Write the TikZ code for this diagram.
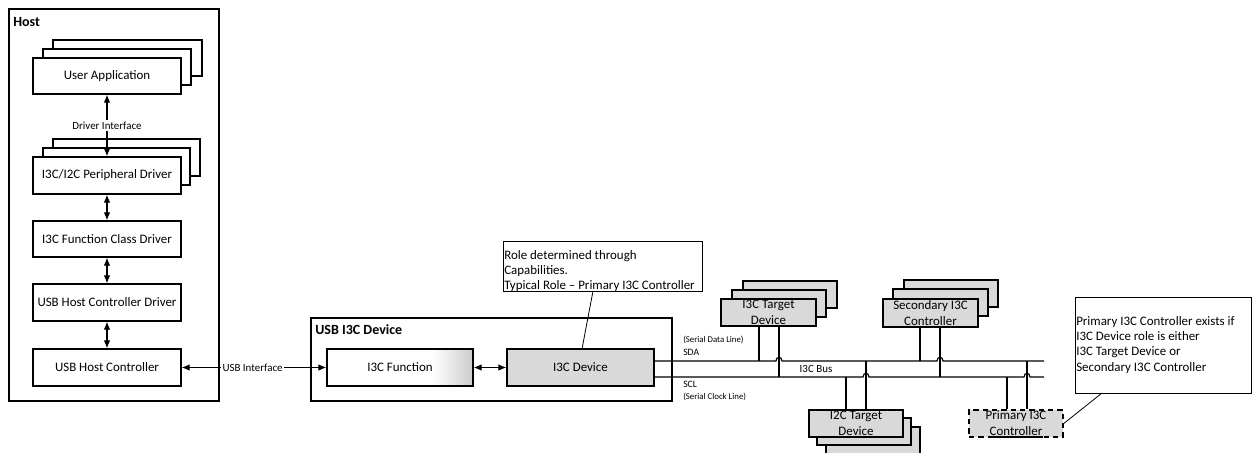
\documentclass[tikz,border=0pt]{standalone}
\usepackage{fontspec}
\setmainfont{Carlito}
\usetikzlibrary{arrows.meta}
\definecolor{devgray}{HTML}{D9D9D9}
% white body that turns grey towards the right edge
\pgfdeclarehorizontalshading{fnshade}{100bp}{color(0bp)=(white); color(25bp)=(white); color(61bp)=(white); color(75bp)=(black!20); color(100bp)=(black!20)}
% \pbox{name}{style}{x1}{y1}{x2}{y2}{text}: box given by its corners (pixel grid, y down)
\newcommand\pbox[7]{\node[#2, minimum width={(#5-(#3))*0.75pt}, minimum height={(#6-(#4))*0.75pt}] (#1) at ({(#3+#5)/2},{(#4+#6)/2}) {#7};}
\tikzset{
  box/.style={draw, line width=1.1pt, fill=white, inner sep=0pt, align=center, font=\fontsize{9.7}{12}\selectfont},
  dev/.style={box, fill=devgray, line width=1.4pt},
  frame/.style={draw, line width=1.1pt, inner sep=0pt},
  note/.style={draw, line width=0.6pt, inner sep=0pt, fill=white},
  link/.style={line width=0.8pt, {Latex[length=6pt,width=5pt]}-{Latex[length=6pt,width=5pt]}},
  bus/.style={line width=0.85pt},
  lbl/.style={font=\fontsize{8.2}{10}\selectfont, fill=white, inner sep=1pt},
  title/.style={font=\fontsize{10.5}{12}\bfseries, inner sep=0pt, anchor=west},
  sig/.style={font=\fontsize{7.3}{9}\selectfont, inner sep=0pt, anchor=west},
  sigsub/.style={font=\fontsize{6.6}{8}\selectfont, inner sep=0pt, anchor=west},
  notetext/.style={font=\fontsize{9.7}{11.3}\selectfont, inner sep=0pt, anchor=west, align=left},
}
\begin{document}
\begin{tikzpicture}[x=0.75pt, y=-0.75pt]
\useasboundingbox (0,0) rectangle (1252,453);

% ---------------- Host ----------------
\pbox{host}{frame}{9}{9}{219}{401}{}
\node[title] at (13,22) {Host};

\pbox{ua3}{box}{53}{40}{202}{76}{}
\pbox{ua2}{box}{43}{49}{191}{85}{}
\pbox{ua}{box}{33}{58}{181}{94}{User Application}

\pbox{pd3}{box}{53}{139}{200}{176}{}
\pbox{pd2}{box}{43}{148}{190}{185}{}
\pbox{pd}{box}{33}{157}{181}{194}{I3C/I2C Peripheral Driver}

\pbox{fcd}{box}{33}{221}{181}{257}{I3C Function Class Driver}
\pbox{hcd}{box}{33}{284}{181}{321}{USB Host Controller Driver}
\pbox{hc}{box}{33}{349}{181}{386}{USB Host Controller}

\draw[link] (ua.south) -- node[lbl] {Driver Interface} (pd.north);
\draw[link] (pd.south) -- (fcd.north);
\draw[link] (fcd.south) -- (hcd.north);
\draw[link] (hcd.south) -- (hc.north);

% ---------------- USB I3C Device ----------------
\pbox{dev}{frame}{311}{318}{672}{401}{}
\node[title] at (315,330) {USB I3C Device};
\pbox{fn}{box, shading=fnshade}{327}{349}{473}{386}{I3C Function}
\pbox{idev}{box, fill=devgray}{507}{349}{654}{386}{I3C Device}

\draw[link] (hc.east) -- node[lbl, pos=0.49] {USB Interface} (fn.west);
\draw[link] (fn.east) -- (idev.west);

% role note
\pbox{rnote}{note}{503}{241}{702}{291}{}
\node[notetext] at (504,271) {Role determined through\\Capabilities.\\Typical Role -- Primary I3C Controller};
\draw[line width=0.6pt] (582,349) -- (593,291);

% ---------------- I3C bus ----------------
\coordinate (sdaE) at (1044,361);
\coordinate (sclE) at (1044,377);
\draw[bus] (idev.east |- sdaE) -- (776,361) .. controls (776,356) and (782,356) .. (782,361)
  -- (937,361) .. controls (937,356) and (943,356) .. (943,361) -- (sdaE);
\draw[bus] (idev.east |- sclE) -- (863,377) .. controls (863,372) and (869,372) .. (869,377)
  -- (1024,377) .. controls (1024,372) and (1030,372) .. (1030,377) -- (sclE);

\node[sigsub] at (683,340) {(Serial Data Line)};
\node[sig] at (683,352) {SDA};
\node[sig] at (683,384) {SCL};
\node[sigsub] at (683,397) {(Serial Clock Line)};
\node[font=\fontsize{8.2}{10}\selectfont, inner sep=0pt] at (816,369) {I3C Bus};

% I3C target devices
\pbox{tgt3}{dev}{743}{281}{837}{308}{}
\pbox{tgt2}{dev}{732}{290}{826}{317}{}
\pbox{tgt}{dev}{721}{299}{816}{326}{I3C Target\\Device}

% secondary controllers
\pbox{sec3}{dev}{904}{280}{998}{307}{}
\pbox{sec2}{dev}{893}{289}{988}{316}{}
\pbox{sec}{dev}{883}{299}{978}{327}{Secondary I3C\\Controller}

% I2C target devices
\pbox{i2c3}{dev}{826}{427}{920}{454}{}
\pbox{i2c2}{dev}{817}{418}{911}{445}{}
\pbox{i2c}{dev}{809}{410}{903}{437}{I2C Target\\Device}

% primary controller (optional)
\pbox{pri}{dev, dashed, dash pattern=on 4pt off 3pt, line width=1.1pt}{969}{410}{1063}{437}{Primary I3C\\Controller}
\draw[line width=1.1pt] (990,437) -- (1043,437);

% bus taps
\draw[bus] (tgt.south -| 759,0) -- (759,361);
\draw[bus] (tgt.south -| 779,0) -- (779,377);
\draw[bus] (sec.south -| 920,0) -- (920,361);
\draw[bus] (sec.south -| 940,0) -- (940,377);
\draw[bus] (i2c.north -| 846,0) -- (846,377);
\draw[bus] (i2c.north -| 866,0) -- (866,361);
\draw[bus] (pri.north -| 1007,0) -- (1007,377);
\draw[bus] (pri.north -| 1027,0) -- (1027,361);

% primary controller note
\pbox{pnote}{note}{1075}{297}{1251}{393}{}
\node[notetext] at (1076,345) {Primary I3C Controller exists if\\I3C Device role is either\\I3C Target Device or\\Secondary I3C Controller};
\draw[line width=0.6pt] (pri.east) -- (1102,393);
\end{tikzpicture}
\end{document}
